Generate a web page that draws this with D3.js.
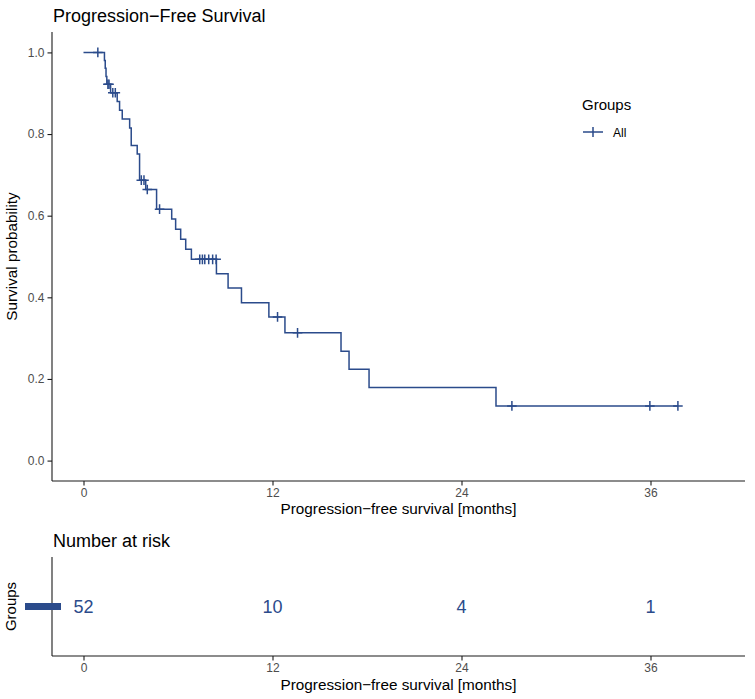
<!DOCTYPE html>
<html><head><meta charset="utf-8">
<script src="https://cdn.jsdelivr.net/npm/d3@7"></script>
<style>
body{margin:0;background:#fff;}
svg{display:block;}
text{font-family:"Liberation Sans",Arial,Helvetica,sans-serif;}
</style></head>
<body>
<svg id="chart" width="755" height="699"></svg>
<script>
// ---- data ----
const stepTimes = [0, 1.33, 1.38, 1.43, 1.48, 1.72, 2.14, 2.29, 2.46, 2.93, 3.03, 3.41, 3.56, 3.95, 4.64, 5.60, 5.85, 6.17, 6.49, 6.85, 8.44, 9.18, 10.03, 11.77, 12.79, 16.35, 16.86, 18.13, 26.19];
const stepSurv  = [1.000, 0.980, 0.961, 0.941, 0.922, 0.901, 0.880, 0.858, 0.837, 0.815, 0.772, 0.751, 0.687, 0.664, 0.616, 0.592, 0.567, 0.542, 0.518, 0.493, 0.458, 0.423, 0.387, 0.352, 0.313, 0.268, 0.224, 0.179, 0.134];
const lastTime = 37.74;
const censorTimes = [0.91, 1.55, 1.62, 1.86, 2.02, 3.67, 3.84, 4.05, 4.83, 7.38, 7.55, 7.70, 7.95, 8.20, 8.42, 12.32, 13.59, 27.20, 35.96, 37.74];
const censorSurv  = [1.000, 0.922, 0.922, 0.901, 0.901, 0.687, 0.687, 0.664, 0.616, 0.493, 0.493, 0.493, 0.493, 0.493, 0.493, 0.352, 0.313, 0.134, 0.134, 0.134];
const xTicks = [0, 12, 24, 36];
const yTicks = [0.0, 0.2, 0.4, 0.6, 0.8, 1.0];
const riskTimes = [0, 12, 24, 36];
const riskCounts = [52, 10, 4, 1];
const groupName = "All";

// ---- styles ----
const col = "#2B4B8B";
const axisCol = "#1a1a1a";
const tickTextCol = "#4D4D4D";

const svg = d3.select("#chart");
const left = 52, right = 745;
const x = d3.scaleLinear().domain([-2, 42]).range([left, right]);
const y = d3.scaleLinear().domain([-0.05, 1.05]).range([481, 32]);

// title
svg.append("text").attr("x", 53).attr("y", 22).attr("font-size", 18).attr("fill", "#000")
  .text("Progression\u2212Free Survival");

// main axes
const gx = svg.append("g").attr("transform", "translate(0,481)")
  .call(d3.axisBottom(x).tickValues(xTicks).tickSize(4.5).tickPadding(3).tickFormat(d3.format("d")));
const gy = svg.append("g").attr("transform", `translate(${left},0)`)
  .call(d3.axisLeft(y).tickValues(yTicks).tickSize(4.5).tickPadding(3).tickFormat(d3.format(".1f")));
[gx, gy].forEach(g => {
  g.select(".domain").remove();
  g.selectAll(".tick line").attr("stroke", axisCol).attr("stroke-width", 1.1);
  g.selectAll(".tick text").attr("fill", tickTextCol).attr("font-size", 12)
    .attr("font-family", "Liberation Sans, Arial, sans-serif");
});
svg.append("line").attr("x1", left).attr("x2", right).attr("y1", 481).attr("y2", 481)
  .attr("stroke", axisCol).attr("stroke-width", 1.1);
svg.append("line").attr("x1", left).attr("x2", left).attr("y1", 32).attr("y2", 481)
  .attr("stroke", axisCol).attr("stroke-width", 1.1);

// axis titles
svg.append("text").attr("x", (left + right) / 2).attr("y", 514).attr("text-anchor", "middle")
  .attr("font-size", 15.3).text("Progression\u2212free survival [months]");
svg.append("text").attr("transform", `translate(17,${(32 + 481) / 2}) rotate(-90)`)
  .attr("text-anchor", "middle").attr("font-size", 15.3).text("Survival probability");

// KM curve
const pts = stepTimes.map((t, i) => [t, stepSurv[i]]);
pts.push([lastTime, stepSurv[stepSurv.length - 1]]);
const line = d3.line().x(d => x(d[0])).y(d => y(d[1])).curve(d3.curveStepAfter);
svg.append("path").datum(pts).attr("d", line).attr("fill", "none")
  .attr("stroke", col).attr("stroke-width", 1.5);

// censor marks
const cs = 4.8;
svg.append("g").selectAll("path").data(censorTimes.map((t, i) => [t, censorSurv[i]])).join("path")
  .attr("transform", d => `translate(${x(d[0])},${y(d[1])})`)
  .attr("d", `M${-cs},0H${cs}M0,${-cs}V${cs}`)
  .attr("stroke", col).attr("stroke-width", 1.5).attr("fill", "none");

// legend
svg.append("text").attr("x", 582).attr("y", 110).attr("font-size", 15).text("Groups");
const lg = svg.append("g").attr("transform", "translate(593,132)");
lg.append("path").attr("d", "M-10,0H10M0,-5V5").attr("stroke", col).attr("stroke-width", 1.5);
svg.append("text").attr("x", 613).attr("y", 136.5).attr("font-size", 12).attr("fill", "#000").text(groupName);

// ---- risk table ----
const rTop = 557, rBot = 656;
svg.append("text").attr("x", 53).attr("y", 547).attr("font-size", 18).text("Number at risk");
const ry = d3.scaleBand().domain([groupName]).range([rBot, rTop]);
const gx2 = svg.append("g").attr("transform", `translate(0,${rBot})`)
  .call(d3.axisBottom(x).tickValues(xTicks).tickSize(4.5).tickPadding(3).tickFormat(d3.format("d")));
gx2.select(".domain").remove();
gx2.selectAll(".tick line").attr("stroke", axisCol).attr("stroke-width", 1.1);
gx2.selectAll(".tick text").attr("fill", tickTextCol).attr("font-size", 12)
  .attr("font-family", "Liberation Sans, Arial, sans-serif");
svg.append("line").attr("x1", left).attr("x2", right).attr("y1", rBot).attr("y2", rBot)
  .attr("stroke", axisCol).attr("stroke-width", 1.1);
svg.append("line").attr("x1", left).attr("x2", left).attr("y1", rTop).attr("y2", rBot)
  .attr("stroke", axisCol).attr("stroke-width", 1.1);
const rowY = ry(groupName) + ry.bandwidth() / 2;
svg.append("rect").attr("x", 25).attr("y", rowY - 3.5).attr("width", 36).attr("height", 7).attr("fill", col);
svg.append("g").selectAll("text").data(riskTimes.map((t, i) => [t, riskCounts[i]])).join("text")
  .attr("x", d => x(d[0])).attr("y", rowY).attr("dy", "0.36em").attr("text-anchor", "middle")
  .attr("font-size", 18).attr("fill", col).text(d => d[1]);
svg.append("text").attr("x", (left + right) / 2).attr("y", 690).attr("text-anchor", "middle")
  .attr("font-size", 15.3).text("Progression\u2212free survival [months]");
svg.append("text").attr("transform", `translate(16,${rowY}) rotate(-90)`)
  .attr("text-anchor", "middle").attr("font-size", 15).text("Groups");
</script>
</body></html>
